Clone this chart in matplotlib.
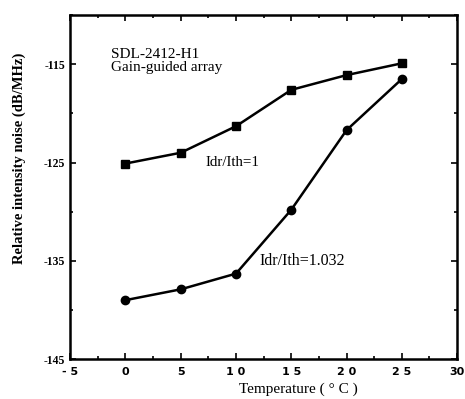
import matplotlib.pyplot as plt
from matplotlib.ticker import MultipleLocator

temperature = [0, 5, 10, 15, 20, 25]
rin_ratio_1 = [-125.1, -124.0, -121.3, -117.6, -116.1, -114.9]
rin_ratio_1032 = [-139.0, -137.9, -136.3, -129.8, -121.7, -116.5]
x_ticks = [-5, 0, 5, 10, 15, 20, 25, 30]
x_tick_labels = ['- 5', '0', '5', '1 0', '1 5', '2 0', '2 5', '30']
y_ticks = [-145, -135, -125, -115]
y_tick_labels = ['-145', '-135', '-125', '-115']

plt.rcParams['font.family'] = ['Liberation Serif', 'DejaVu Serif']

fig = plt.figure(figsize=(4.65, 3.99), dpi=100)
ax = fig.add_axes([0.151, 0.100, 0.832, 0.862])

ax.plot(temperature, rin_ratio_1, color='black', linewidth=1.8,
        marker='s', markersize=5.5)
ax.plot(temperature, rin_ratio_1032, color='black', linewidth=1.8,
        marker='o', markersize=6)

ax.set_xlim(-5, 30)
ax.set_ylim(-145, -110)
ax.set_xticks(x_ticks)
ax.set_xticklabels(x_tick_labels, fontsize=8, fontweight='bold',
                   family=['DejaVu Sans'])
ax.set_yticks(y_ticks)
ax.set_yticklabels(y_tick_labels, fontsize=8.5, fontweight='bold')
ax.xaxis.set_minor_locator(MultipleLocator(2.5))
ax.yaxis.set_minor_locator(MultipleLocator(5))
ax.tick_params(which='both', direction='in', top=True, right=True, width=1.2)
ax.tick_params(which='major', length=4)
ax.tick_params(which='minor', length=2)
ax.tick_params(axis='x', pad=6)
for side in ax.spines.values():
    side.set_linewidth(1.8)

ax.text(-1.3, -113.3, 'SDL-2412-H1\nGain-guided array', fontsize=11,
        va='top', linespacing=1.05)
ax.text(7.2, -125, 'Idr/Ith=1', fontsize=10.8, va='center')
ax.text(12.1, -135, 'Idr/Ith=1.032', fontsize=11.5, va='center')

ax.set_xlabel('Temperature ( \u00b0 C )', fontsize=11)
ax.xaxis.set_label_coords(0.59, -0.068)
ax.set_ylabel('Relative intensity noise (dB/MHz)', fontsize=10.5,
              fontweight='bold')
ax.yaxis.set_label_coords(-0.115, 0.584)

fig.savefig('out.png', dpi=100)
